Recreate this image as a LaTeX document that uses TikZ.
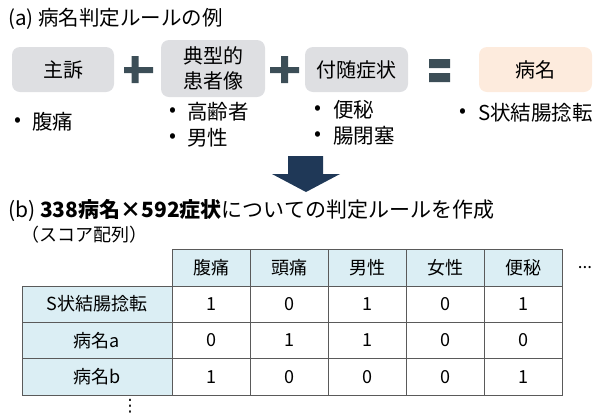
\documentclass[tikz,border=0pt]{standalone}
\usepackage{fontspec}
\setmainfont{Noto Sans CJK JP}
\newfontfamily\dejavu{DejaVu Sans}
\definecolor{boxgray}{HTML}{DEDFE2}
\definecolor{peach}{HTML}{FDEBDD}
\definecolor{opcolor}{HTML}{3C4E57}
\definecolor{arrowblue}{HTML}{1F3857}
\definecolor{cellblue}{HTML}{DBEEF4}
\definecolor{linegray}{HTML}{5A5A5A}
\begin{document}
\begin{tikzpicture}[x=1pt,y=-1pt,
  txt/.style={font=\fontsize{20.5}{24}\selectfont, inner sep=0pt, text=black},
  gbox/.style={fill=boxgray, rounded corners=8pt, inner sep=0pt, font=\fontsize{20}{25}\selectfont, align=center},
  cell/.style={draw=linegray, line width=0.8pt, minimum width=78pt, minimum height=36.4pt, inner sep=0pt, font=\fontsize{18}{20}\selectfont},
  hcell/.style={cell, fill=cellblue},
  rcell/.style={cell, fill=cellblue, minimum width=150pt}]
\useasboundingbox (0,0) rectangle (599,416);

% (a) title
\node[txt, anchor=west] (ta) at (8,18.5) {(a) 病名判定ルールの例};

% boxes
\node[gbox, minimum width=102pt, minimum height=45pt] (cc) at (63,69.5) {主訴};
\node[gbox, minimum width=104pt, minimum height=57pt] (pt) at (213,68.5) {典型的\\患者像};
\node[gbox, minimum width=103pt, minimum height=45pt] (sx) at (356.5,69.5) {付随症状};
\node[gbox, fill=peach, minimum width=113pt, minimum height=45pt] (dx) at (535.5,69.5) {病名};

% operators
\fill[opcolor] (124,67) rectangle (153,73) (131.5,56) rectangle (138.5,83);
\fill[opcolor] (270,67) rectangle (299,73) (281,56) rectangle (288,83);
\fill[opcolor] (429,59) rectangle (450,68) (429,73) rectangle (450,82);

% bullets
\node[txt] at (18,122) {•};
\node[txt, anchor=west] (b1) at (32,122) {腹痛};
\node[txt] at (173,112) {•};
\node[txt, anchor=west] (b2) at (187,112) {高齢者};
\node[txt] at (173,138) {•};
\node[txt, anchor=west] (b3) at (187,138) {男性};
\node[txt] at (318,110) {•};
\node[txt, anchor=west] (b4) at (333,110) {便秘};
\node[txt] at (318,136) {•};
\node[txt, anchor=west] (b5) at (333,136) {腸閉塞};
\node[txt] at (463,113) {•};
\node[txt, anchor=west] (b6) at (478,113) {S状結腸捻転};

% big arrow
\fill[arrowblue] (288,156) -- (323,156) -- (323,174) -- (340,174) -- (306,192) -- (272,174) -- (288,174) -- cycle;

% (b) title
\node[txt, anchor=west, font=\fontsize{21}{24}\selectfont] (tb) at (8,210) {(b) {\bfseries 338病名×592症状}についての判定ルールを作成};
\node[txt, anchor=west, font=\fontsize{18}{20}\selectfont] (tb2) at (21,235) {（スコア配列）};

% table header
\node[hcell] (h1) at (211,267.7) {腹痛};
\node[hcell] (h2) at (289,267.7) {頭痛};
\node[hcell] (h3) at (367,267.7) {男性};
\node[hcell] (h4) at (445,267.7) {女性};
\node[hcell] (h5) at (523,267.7) {便秘};
\node[txt, font=\fontsize{17}{20}\selectfont] (hd) at (585,268) {...};

% rows
\node[rcell] (r1) at (97,304.1) {S状結腸捻転};
\node[rcell] (r2) at (97,340.5) {病名a};
\node[rcell] (r3) at (97,376.9) {病名b};

\foreach \r/\y/\vals in {1/304.1/{1,0,1,0,1}, 2/340.5/{0,1,1,0,0}, 3/376.9/{1,0,0,0,1}}{
  \foreach \v [count=\c] in \vals {
    \node[cell] (c\r\c) at ({133+78*\c},\y) {\v};
  }
}

\node[txt, font=\dejavu\fontsize{17}{20}\selectfont] (vd) at (130,406.5) {⋮};
\end{tikzpicture}
\end{document}
